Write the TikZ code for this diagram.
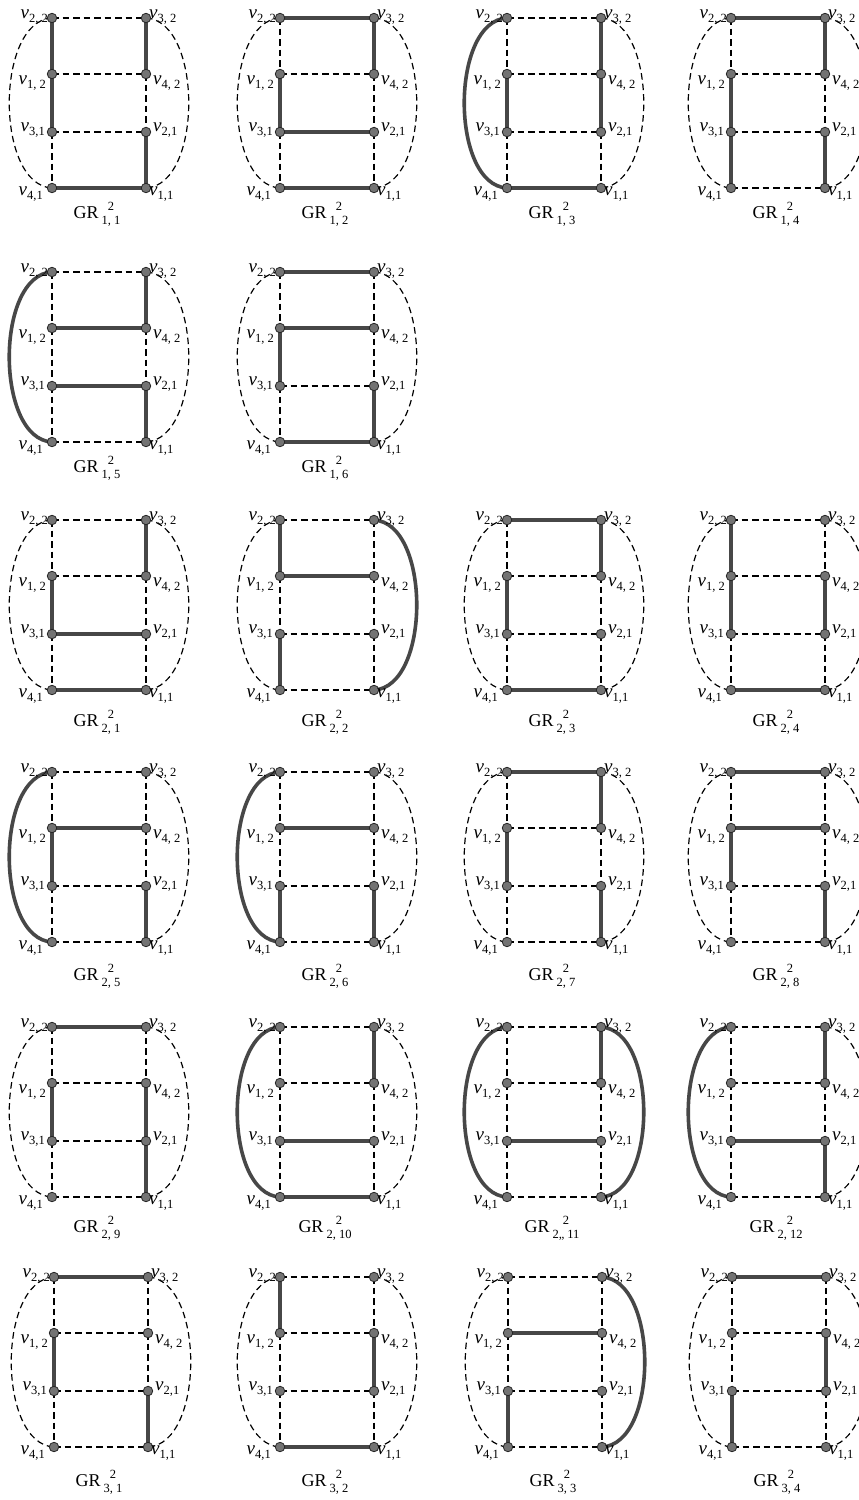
\documentclass[tikz,border=0pt]{standalone}
\usepackage{fontspec}
\setmainfont{Liberation Serif}
\makeatletter
\newcommand\pe[3]{\in@{,#2,}{,#1,}\ifin@\draw[thk] #3;\else\draw[dsh] #3;\fi}
\makeatother
\newcommand\vv[1]{\textit{v}\raisebox{-4.5pt}{\fontsize{12.5}{12.5}\selectfont #1}}
\newcommand\grl[1]{GR\,\begin{tabular}{@{}c@{}}\fontsize{12.5}{12.5}\selectfont 2\\[-4pt]\fontsize{12.5}{12.5}\selectfont #1\end{tabular}}
\tikzset{
  thk/.style={line width=3.6pt, draw=black!72, line cap=round},
  dsh/.style={line width=1.2pt, draw=black, dash pattern=on 6.5pt off 4pt},
  dot/.style={circle, inner sep=0pt, minimum size=9.5pt, fill=black!55, draw=black!85, line width=0.8pt},
  vl/.style={inner sep=0pt, font=\fontsize{19}{19}\selectfont},
  gl/.style={inner sep=0pt, font=\fontsize{18}{18}\selectfont},
}
\newcommand\panel[6]{%
  \coordinate (#1A) at (#2,#3);
  \coordinate (#1B) at (#2,#3+56);
  \coordinate (#1C) at (#2,#3+114);
  \coordinate (#1D) at (#2,#3+170);
  \coordinate (#1E) at (#2+94,#3);
  \coordinate (#1F) at (#2+94,#3+56);
  \coordinate (#1G) at (#2+94,#3+114);
  \coordinate (#1H) at (#2+94,#3+170);
  \pe{#6}{AE}{(#1A) -- (#1E)}
  \pe{#6}{BF}{(#1B) -- (#1F)}
  \pe{#6}{CG}{(#1C) -- (#1G)}
  \pe{#6}{DH}{(#1D) -- (#1H)}
  \pe{#6}{AB}{(#1A) -- (#1B)}
  \pe{#6}{BC}{(#1B) -- (#1C)}
  \pe{#6}{CD}{(#1C) -- (#1D)}
  \pe{#6}{EF}{(#1E) -- (#1F)}
  \pe{#6}{FG}{(#1F) -- (#1G)}
  \pe{#6}{GH}{(#1G) -- (#1H)}
  \pe{#6}{L}{(#1A) .. controls +(-57,3) and +(-57,-3) .. (#1D)}
  \pe{#6}{R}{(#1E) .. controls +(57,3) and +(57,-3) .. (#1H)}
  \foreach \v in {A,B,C,D,E,F,G,H} \node[dot] (#1\v d) at (#1\v) {};
  \node[vl, anchor=base east] (#1Al) at ([shift={(-4,0)}]#1A) {\vv{2, 2}};
  \node[vl, anchor=base west] (#1El) at ([shift={(3,0)}]#1E) {\vv{3, 2}};
  \node[vl, anchor=base east] (#1Bl) at ([shift={(-6,10)}]#1B) {\vv{1, 2}};
  \node[vl, anchor=base west] (#1Fl) at ([shift={(7,10)}]#1F) {\vv{4, 2}};
  \node[vl, anchor=base east] (#1Cl) at ([shift={(-7,-1)}]#1C) {\vv{3,1}};
  \node[vl, anchor=base west] (#1Gl) at ([shift={(7,-1)}]#1G) {\vv{2,1}};
  \node[vl, anchor=base east] (#1Dl) at ([shift={(-9,7)}]#1D) {\vv{4,1}};
  \node[vl, anchor=base west] (#1Hl) at ([shift={(3,7)}]#1H) {\vv{1,1}};
  \node[gl] (#1g) at (#2+45,#4) {\grl{#5}};
}
\begin{document}
\begin{tikzpicture}[x=1pt,y=-1pt]
\useasboundingbox (0,0) rectangle (859,1500);
\clip (0,0) rectangle (859,1500);
\fill[white] (0,0) rectangle (859,1500);
% row 1
\panel{p11}{52}{18}{214}{1, 1}{AB,BC,EF,GH,DH}
\panel{p12}{280}{18}{214}{1, 2}{AE,EF,BC,CG,DH}
\panel{p13}{507}{18}{214}{1, 3}{L,EF,FG,BC,DH}
\panel{p14}{731}{18}{214}{1, 4}{AE,EF,BC,CD,GH}
% row 2
\panel{p15}{52}{272}{468}{1, 5}{L,EF,BF,CG,GH}
\panel{p16}{280}{272}{468}{1, 6}{AE,BF,BC,GH,DH}
% row 3
\panel{p21}{52}{520}{722}{2, 1}{EF,BC,CG,DH}
\panel{p22}{280}{520}{722}{2, 2}{AB,BF,R,CD}
\panel{p23}{507}{520}{722}{2, 3}{AE,EF,BC,DH}
\panel{p24}{731}{520}{722}{2, 4}{AB,BC,FG,DH}
% row 4
\panel{p25}{52}{772}{976}{2, 5}{L,BF,BC,GH}
\panel{p26}{280}{772}{976}{2, 6}{L,BF,CD,GH}
\panel{p27}{507}{772}{976}{2, 7}{AE,EF,BC,GH}
\panel{p28}{731}{772}{976}{2, 8}{AE,BF,BC,GH}
% row 5
\panel{p29}{52}{1027}{1228}{2, 9}{AE,BC,FG,GH}
\panel{p210}{280}{1027}{1228}{2, 10}{L,EF,CG,DH}
\panel{p211}{507}{1027}{1228}{2,, 11}{L,R,EF,CG}
\panel{p212}{731}{1027}{1228}{2, 12}{L,EF,CG,GH}
% row 6
\panel{p31}{54}{1277}{1482}{3, 1}{AE,BC,GH}
\panel{p32}{280}{1277}{1482}{3, 2}{AB,FG,DH}
\panel{p33}{508}{1277}{1482}{3, 3}{R,BF,CD}
\panel{p34}{732}{1277}{1482}{3, 4}{AE,FG,CD}
\end{tikzpicture}
\end{document}
